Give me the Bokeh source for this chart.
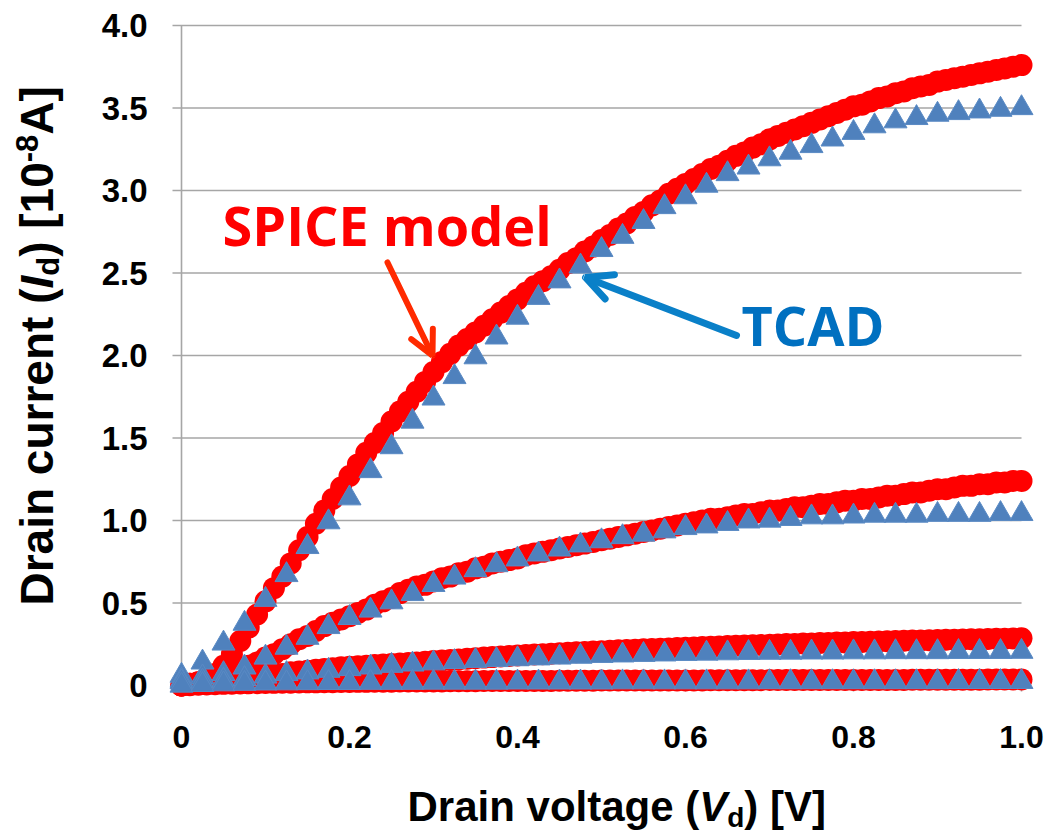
import math
from bokeh.plotting import figure
from bokeh.models import Label, Arrow, OpenHead, Range1d
from bokeh.core.properties import value
from bokeh.embed import file_html
from bokeh.resources import INLINE

# ---------------- data ----------------
VD_SPICE = [i / 100 for i in range(101)]
VD_TCAD = [i / 40 for i in range(41)]

SPICE_1 = [0.00, 0.01, 0.02, 0.04, 0.07, 0.12, 0.19, 0.27, 0.35, 0.43,
           0.51, 0.59, 0.66, 0.74, 0.82, 0.90, 0.98, 1.06, 1.13, 1.20,
           1.27, 1.34, 1.41, 1.47, 1.53, 1.60, 1.66, 1.72, 1.78, 1.84,
           1.90, 1.96, 2.01, 2.06, 2.10, 2.14, 2.18, 2.22, 2.26, 2.30,
           2.34, 2.38, 2.42, 2.45, 2.48, 2.52, 2.56, 2.59, 2.63, 2.66,
           2.70, 2.73, 2.77, 2.80, 2.84, 2.87, 2.91, 2.94, 2.98, 3.01,
           3.04, 3.07, 3.10, 3.13, 3.15, 3.18, 3.21, 3.23, 3.26, 3.28,
           3.31, 3.33, 3.35, 3.37, 3.39, 3.41, 3.43, 3.45, 3.47, 3.49,
           3.51, 3.52, 3.54, 3.56, 3.57, 3.59, 3.60, 3.62, 3.63, 3.64,
           3.66, 3.67, 3.68, 3.69, 3.70, 3.71, 3.72, 3.73, 3.74, 3.75,
           3.76]
SPICE_2 = [0.00, 0.01, 0.02, 0.03, 0.05, 0.07, 0.08, 0.10, 0.12, 0.14,
           0.17, 0.19, 0.22, 0.25, 0.28, 0.30, 0.33, 0.36, 0.38, 0.40,
           0.42, 0.44, 0.46, 0.49, 0.51, 0.53, 0.56, 0.58, 0.60, 0.61,
           0.63, 0.65, 0.66, 0.68, 0.69, 0.71, 0.72, 0.74, 0.75, 0.76,
           0.77, 0.79, 0.80, 0.81, 0.82, 0.83, 0.84, 0.85, 0.86, 0.87,
           0.88, 0.89, 0.90, 0.91, 0.92, 0.93, 0.94, 0.95, 0.96, 0.97,
           0.98, 0.99, 1.00, 1.01, 1.01, 1.02, 1.03, 1.04, 1.04, 1.05,
           1.06, 1.06, 1.07, 1.08, 1.08, 1.09, 1.10, 1.10, 1.11, 1.12,
           1.12, 1.13, 1.13, 1.14, 1.15, 1.15, 1.16, 1.17, 1.17, 1.18,
           1.19, 1.19, 1.20, 1.21, 1.21, 1.22, 1.22, 1.23, 1.23, 1.24,
           1.24]
SPICE_3 = [0.000, 0.005, 0.010, 0.015, 0.020, 0.030, 0.035, 0.040, 0.050, 0.055,
           0.060, 0.065, 0.070, 0.080, 0.085, 0.090, 0.095, 0.100, 0.105, 0.110,
           0.113, 0.117, 0.120, 0.124, 0.127, 0.130, 0.133, 0.137, 0.140, 0.144,
           0.148, 0.151, 0.155, 0.158, 0.162, 0.165, 0.169, 0.172, 0.176, 0.179,
           0.182, 0.185, 0.188, 0.190, 0.193, 0.196, 0.198, 0.201, 0.203, 0.206,
           0.208, 0.210, 0.213, 0.215, 0.217, 0.219, 0.221, 0.223, 0.225, 0.227,
           0.229, 0.231, 0.233, 0.235, 0.237, 0.239, 0.241, 0.242, 0.244, 0.246,
           0.247, 0.249, 0.251, 0.252, 0.254, 0.255, 0.257, 0.258, 0.260, 0.261,
           0.263, 0.264, 0.265, 0.267, 0.268, 0.269, 0.271, 0.272, 0.273, 0.274,
           0.276, 0.277, 0.278, 0.279, 0.280, 0.281, 0.282, 0.283, 0.284, 0.285,
           0.286]
SPICE_4 = [0.000, 0.002, 0.004, 0.006, 0.008, 0.010, 0.011, 0.012, 0.013, 0.014,
           0.015, 0.016, 0.017, 0.017, 0.018, 0.019, 0.019, 0.020, 0.020, 0.021,
           0.021, 0.022, 0.022, 0.023, 0.023, 0.023, 0.024, 0.024, 0.024, 0.025,
           0.025, 0.025, 0.026, 0.026, 0.026, 0.026, 0.027, 0.027, 0.027, 0.027,
           0.028, 0.028, 0.028, 0.028, 0.028, 0.029, 0.029, 0.029, 0.029, 0.029,
           0.030, 0.030, 0.030, 0.030, 0.030, 0.030, 0.031, 0.031, 0.031, 0.031,
           0.031, 0.031, 0.031, 0.032, 0.032, 0.032, 0.032, 0.032, 0.032, 0.032,
           0.033, 0.033, 0.033, 0.033, 0.033, 0.033, 0.033, 0.033, 0.034, 0.034,
           0.034, 0.034, 0.034, 0.034, 0.034, 0.034, 0.034, 0.035, 0.035, 0.035,
           0.035, 0.035, 0.035, 0.035, 0.035, 0.035, 0.036, 0.036, 0.036, 0.036,
           0.036]

TCAD_1 = [0.06, 0.14, 0.255, 0.375, 0.52, 0.67, 0.84, 0.99, 1.135, 1.30,
          1.445, 1.60, 1.74, 1.87, 1.99, 2.11, 2.23, 2.35, 2.45, 2.54,
          2.64, 2.72, 2.81, 2.90, 2.96, 3.03, 3.10, 3.14, 3.19, 3.23,
          3.27, 3.31, 3.35, 3.39, 3.42, 3.44, 3.46, 3.47, 3.48, 3.49,
          3.50]
TCAD_2 = [0.030, 0.050, 0.070, 0.110, 0.170, 0.230, 0.290, 0.355, 0.410, 0.455,
          0.505, 0.555, 0.610, 0.655, 0.700, 0.730, 0.765, 0.795, 0.825, 0.850,
          0.875, 0.900, 0.915, 0.935, 0.955, 0.965, 0.980, 0.995, 1.000, 1.010,
          1.020, 1.020, 1.025, 1.030, 1.030, 1.030, 1.035, 1.035, 1.035, 1.040,
          1.040]
TCAD_3 = [0.020, 0.025, 0.030, 0.040, 0.055, 0.070, 0.080, 0.090, 0.100, 0.110,
          0.120, 0.128, 0.135, 0.143, 0.150, 0.155, 0.160, 0.165, 0.170, 0.175,
          0.180, 0.183, 0.186, 0.189, 0.192, 0.194, 0.196, 0.198, 0.199, 0.200,
          0.201, 0.201, 0.202, 0.202, 0.203, 0.203, 0.203, 0.204, 0.204, 0.204,
          0.205]
TCAD_4 = [0.000, 0.004, 0.008, 0.011, 0.013, 0.014, 0.015, 0.016, 0.016, 0.017,
          0.017, 0.017, 0.018, 0.018, 0.018, 0.018, 0.019, 0.019, 0.019, 0.019,
          0.019, 0.020, 0.020, 0.020, 0.020, 0.020, 0.020, 0.020, 0.021, 0.021,
          0.021, 0.021, 0.021, 0.021, 0.021, 0.021, 0.021, 0.022, 0.022, 0.022,
          0.022]

SPICE_SERIES = [SPICE_1, SPICE_2, SPICE_3, SPICE_4]
TCAD_SERIES = [TCAD_1, TCAD_2, TCAD_3, TCAD_4]

X_TICKS = [0, 0.2, 0.4, 0.6, 0.8, 1.0]
X_TICK_LABELS = ["0", "0.2", "0.4", "0.6", "0.8", "1.0"]
Y_TICKS = [0, 0.5, 1.0, 1.5, 2.0, 2.5, 3.0, 3.5, 4.0]
Y_TICK_LABELS = ["0", "0.5", "1.0", "1.5", "2.0", "2.5", "3.0", "3.5", "4.0"]

SPICE_LABEL = "SPICE model"
TCAD_LABEL = "TCAD"

# ---------------- layout (canvas pixels) ----------------
W, H = 1051, 833
PX_X, PX_Y = 840.0, 165.0          # pixels per data unit
X0_PX, Y0_PX = 181.0, 685.0        # canvas pixel of the data origin

x_start = (0 - X0_PX) / PX_X
x_end = (W - X0_PX) / PX_X
y_start = (Y0_PX - H) / PX_Y
y_end = Y0_PX / PX_Y


def dx(px):
    return (px - X0_PX) / PX_X


def dy(py):
    return (Y0_PX - py) / PX_Y


# Arial/Liberation Sans Bold advance widths (1/1000 em)
WB = {' ': 278, '(': 333, ')': 333, '[': 333, ']': 333, '-': 333, '0': 556,
      '1': 556, '8': 556, 'A': 722, 'D': 722, 'I': 278, 'V': 667, 'a': 556,
      'c': 556, 'd': 611, 'e': 556, 'g': 611, 'i': 278, 'l': 278, 'n': 611,
      'o': 611, 'r': 389, 't': 333, 'u': 611, 'v': 556}
LIB_MID = 0.3465     # em-box middle above baseline, Liberation Sans
OS_MID = 0.388       # em-box middle above baseline, Open Sans


def tw(s, size):
    return sum(WB[c] for c in s) * size / 1000.0


p = figure(width=W, height=H, x_range=Range1d(x_start, x_end),
           y_range=Range1d(y_start, y_end), output_backend="svg",
           toolbar_location=None, min_border=0)
p.outline_line_color = None
p.grid.visible = False
p.axis.visible = False
p.background_fill_color = "white"
p.border_fill_color = "white"

GRID = "#a6a6a6"
n = len(Y_TICKS)
p.segment([dx(X0_PX - 9)] * n, Y_TICKS, [X_TICKS[-1]] * n, Y_TICKS,
          line_color=GRID, line_width=1.6)
p.segment([X_TICKS[0]], [Y_TICKS[0]], [X_TICKS[0]], [Y_TICKS[-1]],
          line_color=GRID, line_width=1.6)
m = len(X_TICKS)
p.segment(X_TICKS, [Y_TICKS[0]] * m, X_TICKS, [dy(Y0_PX + 6)] * m,
          line_color=GRID, line_width=1.6)

# tick labels
TICK_FONT = value("Liberation Sans")
p.text(x=X_TICKS, y=[dy(748 - LIB_MID * 32)] * m, text=X_TICK_LABELS,
       text_font=TICK_FONT, text_font_style="bold", text_font_size="32px",
       text_color="black", text_align="center", text_baseline="middle")
p.text(x=[dx(147)] * n, y=Y_TICKS, text=Y_TICK_LABELS,
       text_font=TICK_FONT, text_font_style="bold", text_font_size="33px",
       text_color="black", text_align="right", text_baseline="middle")

for s in SPICE_SERIES:
    p.scatter(VD_SPICE, s, marker="circle", size=22,
              fill_color="#ff0000", line_color=None)
for t in TCAD_SERIES:
    p.scatter(VD_TCAD, t, marker="triangle", size=23,
              fill_color="#4f81bd", line_color="#5a8ac4", line_width=1)

# annotations
p.add_layout(Label(x=dx(222), y=dy(245 - OS_MID * 54), text=SPICE_LABEL,
                   text_font="Open Sans", text_font_style="bold",
                   text_font_size="54px", text_color="#ff0000",
                   text_baseline="middle", text_align="left"))
p.add_layout(Label(x=dx(741), y=dy(345 - OS_MID * 54), text=TCAD_LABEL,
                   text_font="Open Sans", text_font_style="bold",
                   text_font_size="54px", text_color="#0070c0",
                   text_baseline="middle", text_align="left"))

RED_ARROW = "#ff2a00"
BLUE_ARROW = "#0a80c8"
p.add_layout(Arrow(x_start=dx(387), y_start=dy(262), x_end=dx(432), y_end=dy(355),
                   line_color=RED_ARROW, line_width=6, line_cap="round",
                   end=OpenHead(size=24, line_color=RED_ARROW, line_width=6,
                                line_cap="round")))
p.add_layout(Arrow(x_start=dx(736), y_start=dy(335), x_end=dx(585), y_end=dy(277),
                   line_color=BLUE_ARROW, line_width=7, line_cap="round",
                   end=OpenHead(size=26, line_color=BLUE_ARROW, line_width=7,
                                line_cap="round")))

# axis titles built from pieces (italic symbol, subscript, superscript)
BIG, SMALL = 46, 31
Y_BASE = 52.0          # canvas x of the baseline of the rotated title
y_pieces = [("Drain current (", BIG, "bold", 0),
            ("I", BIG, "bold italic", 0),
            ("d", SMALL, "bold", 7),
            (") [10", BIG, "bold", 0),
            ("-8", SMALL, "bold", -15),
            ("A]", BIG, "bold", 0)]
along = 0.0
for txt, size, style, shift in y_pieces:
    cx = Y_BASE + shift - LIB_MID * size
    p.add_layout(Label(x=dx(cx), y=dy(605), y_offset=along, text=txt,
                       angle=math.pi / 2, text_font="Liberation Sans",
                       text_font_style=style, text_font_size=f"{size}px",
                       text_color="black", text_baseline="middle",
                       text_align="left"))
    along += tw(txt, size)

XBIG, XSMALL = 42, 28
X_BASE = 821.0         # canvas y of the baseline of the x title
x_pieces = [("Drain voltage (", XBIG, "bold", 0),
            ("V", XBIG, "bold italic", 0),
            ("d", XSMALL, "bold", 6),
            (") [V]", XBIG, "bold", 0)]
along = 0.0
for txt, size, style, shift in x_pieces:
    cy = X_BASE + shift - LIB_MID * size
    p.add_layout(Label(x=dx(407), y=dy(cy), x_offset=along, text=txt,
                       text_font="Liberation Sans", text_font_style=style,
                       text_font_size=f"{size}px", text_color="black",
                       text_baseline="middle", text_align="left"))
    along += tw(txt, size)

open("out.html", "w").write(file_html(p, INLINE))
